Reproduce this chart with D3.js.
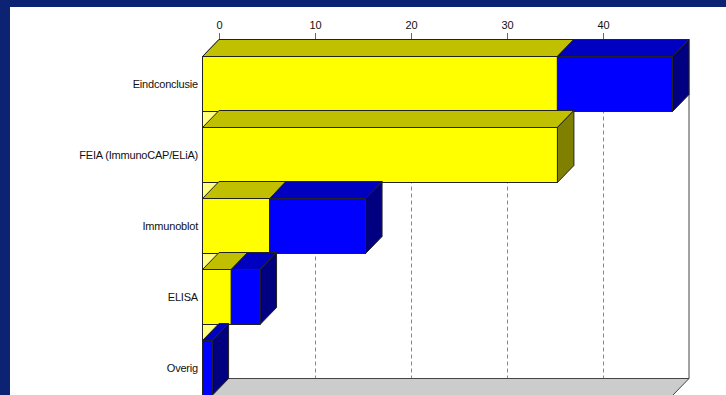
<!DOCTYPE html>
<html><head><meta charset="utf-8">
<script src="https://cdn.jsdelivr.net/npm/d3@7"></script>
<style>html,body{margin:0;padding:0;background:#0c2373;}svg{display:block;}</style>
</head><body>
<script>
const categories = ["Eindconclusie","FEIA (ImmunoCAP/ELiA)","Immunoblot","ELISA","Overig"];
const yellowValues = [37,37,7,3,0];
const blueValues = [12,0,10,3,1];
const tickValues = [0,10,20,30,40];
const axisMax = 49;

const W=726,H=395;
const dx=16.5, dy=-17;
const svg=d3.select("body").append("svg").attr("width",W).attr("height",H);
svg.append("rect").attr("width",W).attr("height",H).attr("fill","#0c2373");
svg.append("rect").attr("x",10).attr("y",7).attr("width",W-10).attr("height",H-7).attr("fill","#fff");

const x=d3.scaleLinear().domain([0,axisMax]).range([202.5,672.5]);
const y=d3.scaleBand().domain(categories).range([56.5,395.5]).paddingInner(16/71).paddingOuter(0);
const frontTop=y.range()[0], frontBot=y.range()[1];
const backTop=frontTop+dy, backBot=frontBot+dy;

const g=svg.append("g");
// floor
g.append("polygon").attr("points",[[x(0)+dx,backBot],[x(axisMax)+dx,backBot],[x(axisMax),frontBot],[x(0),frontBot]].map(p=>p.join(",")).join(" "))
 .attr("fill","#cccccc").attr("stroke","#444").attr("stroke-width",1);
// grid lines on back plane
g.selectAll("line.grid").data(tickValues.filter(d=>d>0)).join("line").attr("class","grid")
 .attr("x1",d=>Math.round(x(d)+dx)+0.5).attr("x2",d=>Math.round(x(d)+dx)+0.5)
 .attr("y1",backTop).attr("y2",backBot).attr("stroke","#888").attr("stroke-dasharray","4,3");
// back plane right and bottom edges
g.append("line").attr("x1",x(axisMax)+dx).attr("x2",x(axisMax)+dx).attr("y1",backTop).attr("y2",backBot).attr("stroke","#444");
g.append("line").attr("x1",x(0)+dx).attr("x2",x(axisMax)+dx).attr("y1",backBot).attr("y2",backBot).attr("stroke","#444");
// left wall
g.append("polygon").attr("points",[[x(0),frontTop],[x(0)+dx,backTop],[x(0)+dx,backBot],[x(0),frontBot]].map(p=>p.join(",")).join(" "))
 .attr("fill","#ffff80").attr("stroke","#222");
// ticks + labels
const tg=g.selectAll("g.tick").data(tickValues).join("g").attr("class","tick")
 .attr("transform",d=>`translate(${Math.round(x(d)+dx)+0.5},0)`);
tg.append("line").attr("y1",33).attr("y2",backTop).attr("stroke","#666");
tg.append("text").attr("y",25).attr("dy","0.35em").attr("text-anchor","middle")
 .attr("font-family","Liberation Sans, Arial, sans-serif").attr("font-size",11).attr("fill","#111").text(d=>d);

// bars
const series=[{vals:yellowValues,front:"#ffff00",top:"#c0c000",side:"#808000"},
              {vals:blueValues,front:"#0000ff",top:"#0000c0",side:"#000080"}];
const pts=a=>a.map(p=>p.join(",")).join(" ");
categories.forEach((c,i)=>{
  let acc=0;
  const y0=y(c), y1=y(c)+y.bandwidth();
  series.forEach(s=>{
    const v=s.vals[i];
    if(v<=0) return;
    const x0=x(acc), x1=x(acc+v);
    acc+=v;
    const bg=g.append("g");
    bg.append("polygon").attr("points",pts([[x0,y0],[x0+dx,y0+dy],[x1+dx,y0+dy],[x1,y0]])).attr("fill",s.top).attr("stroke","#222");
    bg.append("polygon").attr("points",pts([[x1,y0],[x1+dx,y0+dy],[x1+dx,y1+dy],[x1,y1]])).attr("fill",s.side).attr("stroke","#222");
    bg.append("rect").attr("x",x0).attr("y",y0).attr("width",x1-x0).attr("height",y1-y0).attr("fill",s.front).attr("stroke","#222");
  });
});
// category labels
g.selectAll("text.cat").data(categories).join("text").attr("class","cat")
 .attr("x",198).attr("y",d=>y(d)+y.bandwidth()/2).attr("dy","0.35em").attr("text-anchor","end")
 .attr("font-family","Liberation Sans, Arial, sans-serif").attr("font-size",11).attr("letter-spacing","-0.2")
 .attr("fill","#111").text(d=>d);
</script>
</body></html>
